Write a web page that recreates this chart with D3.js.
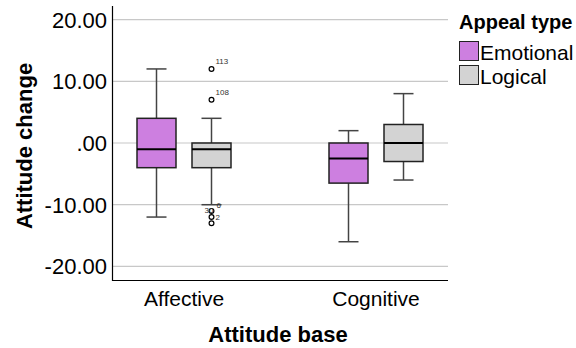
<!DOCTYPE html>
<html>
<head>
<meta charset="utf-8">
<script src="https://cdn.jsdelivr.net/npm/d3@7"></script>
<style>
  body { margin: 0; background: #fff; }
  text { font-family: "Liberation Sans", Arial, sans-serif; fill: #000; }
</style>
</head>
<body>
<div id="chart"></div>
<script>
// attitude base categories and appeal types
const bases = ['Affective', 'Cognitive'];
const appeals = ['Emotional', 'Logical'];
const yTicks = [20, 10, 0, -10, -20];

// box stats per group: [lowWhisker, q1, median, q3, highWhisker]
const affectiveEmotional = [-12, -4, -1, 4, 12];
const affectiveLogical = [-10, -4, -1, 0, 4];
const cognitiveEmotional = [-16, -6.5, -2.5, 0, 2];
const cognitiveLogical = [-6, -3, 0, 3, 8];

// outliers (affective / logical group only)
const outlierValues = [12, 7, -11, -12, -13];
const outlierCases = ['113', '108', '30', '2', ''];

const width = 576, height = 348;
const margin = { top: 6, right: 128, bottom: 68, left: 112 };

const svg = d3.select('#chart').append('svg')
  .attr('width', width)
  .attr('height', height);

const x = d3.scalePoint()
  .domain(bases)
  .range([margin.left, width - margin.right])
  .padding(0.375);

const sub = d3.scalePoint()
  .domain(appeals)
  .range([-27.5, 27.5]);

const y = d3.scaleLinear()
  .domain([-22.2, 22.2])
  .range([height - margin.bottom, margin.top]);

const color = d3.scaleOrdinal().domain(appeals).range(['#cd7fe0', '#d3d3d3']);

// gridlines
svg.append('g')
  .selectAll('line')
  .data(yTicks)
  .join('line')
  .attr('x1', margin.left)
  .attr('x2', width - margin.right)
  .attr('y1', d => y(d))
  .attr('y2', d => y(d))
  .attr('stroke', '#c8c8c8')
  .attr('stroke-width', 1.2);

// y axis labels, SPSS style ".00" and plain hyphen
const fmt = d => (d === 0 ? '.00' : d3.format('.2f')(d).replace('\u2212', '-'));
svg.append('g')
  .selectAll('text')
  .data(yTicks)
  .join('text')
  .attr('x', margin.left - 5)
  .attr('y', d => y(d) + 8)
  .attr('text-anchor', 'end')
  .style('font-size', '22px')
  .text(fmt);

// axis lines
svg.append('path')
  .attr('d', `M${margin.left + 0.5},${margin.top}V${height - margin.bottom + 0.5}H${width - margin.right}`)
  .attr('fill', 'none')
  .attr('stroke', '#000')
  .attr('stroke-width', 1.2);

// x axis labels
svg.append('g')
  .selectAll('text')
  .data(bases)
  .join('text')
  .attr('x', d => x(d))
  .attr('y', 306)
  .attr('text-anchor', 'middle')
  .style('font-size', '21px')
  .text(d => d);

// titles
svg.append('text')
  .attr('x', (margin.left + width - margin.right) / 2 - 2)
  .attr('y', 342)
  .attr('text-anchor', 'middle')
  .style('font-size', '22px')
  .style('font-weight', 'bold')
  .text('Attitude base');

svg.append('text')
  .attr('transform', 'translate(32,146) rotate(-90)')
  .attr('text-anchor', 'middle')
  .style('font-size', '22px')
  .style('font-weight', 'bold')
  .text('Attitude change');

// boxes
const groups = [
  { base: 'Affective', appeal: 'Emotional', s: affectiveEmotional },
  { base: 'Affective', appeal: 'Logical', s: affectiveLogical },
  { base: 'Cognitive', appeal: 'Emotional', s: cognitiveEmotional },
  { base: 'Cognitive', appeal: 'Logical', s: cognitiveLogical }
];
const boxW = 39, capW = 20;

const g = svg.append('g')
  .selectAll('g')
  .data(groups)
  .join('g')
  .attr('transform', d => `translate(${x(d.base) + sub(d.appeal)},0)`);

// whiskers
g.append('line')
  .attr('y1', d => y(d.s[0])).attr('y2', d => y(d.s[1]))
  .attr('stroke', '#444').attr('stroke-width', 1.5);
g.append('line')
  .attr('y1', d => y(d.s[3])).attr('y2', d => y(d.s[4]))
  .attr('stroke', '#444').attr('stroke-width', 1.5);
g.append('line')
  .attr('x1', -capW / 2).attr('x2', capW / 2)
  .attr('y1', d => y(d.s[0])).attr('y2', d => y(d.s[0]))
  .attr('stroke', '#444').attr('stroke-width', 1.5);
g.append('line')
  .attr('x1', -capW / 2).attr('x2', capW / 2)
  .attr('y1', d => y(d.s[4])).attr('y2', d => y(d.s[4]))
  .attr('stroke', '#444').attr('stroke-width', 1.5);

g.append('rect')
  .attr('x', -boxW / 2)
  .attr('width', boxW)
  .attr('y', d => y(d.s[3]))
  .attr('height', d => y(d.s[1]) - y(d.s[3]))
  .attr('fill', d => color(d.appeal))
  .attr('stroke', '#222')
  .attr('stroke-width', 1.5);

g.append('line')
  .attr('x1', -boxW / 2).attr('x2', boxW / 2)
  .attr('y1', d => y(d.s[2])).attr('y2', d => y(d.s[2]))
  .attr('stroke', '#000').attr('stroke-width', 2);

// outliers
const ox = x('Affective') + sub('Logical');
svg.append('g')
  .selectAll('circle')
  .data(outlierValues)
  .join('circle')
  .attr('cx', ox)
  .attr('cy', d => y(d))
  .attr('r', 2.4)
  .attr('fill', '#fff')
  .attr('stroke', '#000')
  .attr('stroke-width', 1.2);

// case labels (SPSS shifts crowded ones around)
const labelOffset = { '113': [4, -5], '108': [4, -5], '30': [-7, 2], '2': [4, 3] };
svg.append('g')
  .selectAll('text')
  .data(outlierValues.map((v, i) => ({ v, c: outlierCases[i] })).filter(d => d.c))
  .join('text')
  .attr('x', d => ox + labelOffset[d.c][0])
  .attr('y', d => y(d.v) + labelOffset[d.c][1])
  .style('font-size', '8px')
  .style('fill', '#333')
  .text(d => d.c);
svg.append('text')
  .attr('x', ox + 5)
  .attr('y', y(-10) + 3)
  .style('font-size', '8px')
  .style('fill', '#333')
  .text('6');

// legend
const lg = svg.append('g').attr('transform', 'translate(459,0)');
lg.append('text')
  .attr('x', 0).attr('y', 29)
  .style('font-size', '20px')
  .style('font-weight', 'bold')
  .text('Appeal type');
const item = lg.selectAll('g.item')
  .data(appeals)
  .join('g')
  .attr('class', 'item')
  .attr('transform', (d, i) => `translate(0,${41 + i * 24})`);
item.append('rect')
  .attr('x', 0.5).attr('y', 0.5)
  .attr('width', 19).attr('height', 19)
  .attr('fill', d => color(d))
  .attr('stroke', '#222')
  .attr('stroke-width', 1);
item.append('text')
  .attr('x', 21).attr('y', 19)
  .style('font-size', '21px')
  .text(d => d);
</script>
</body>
</html>
